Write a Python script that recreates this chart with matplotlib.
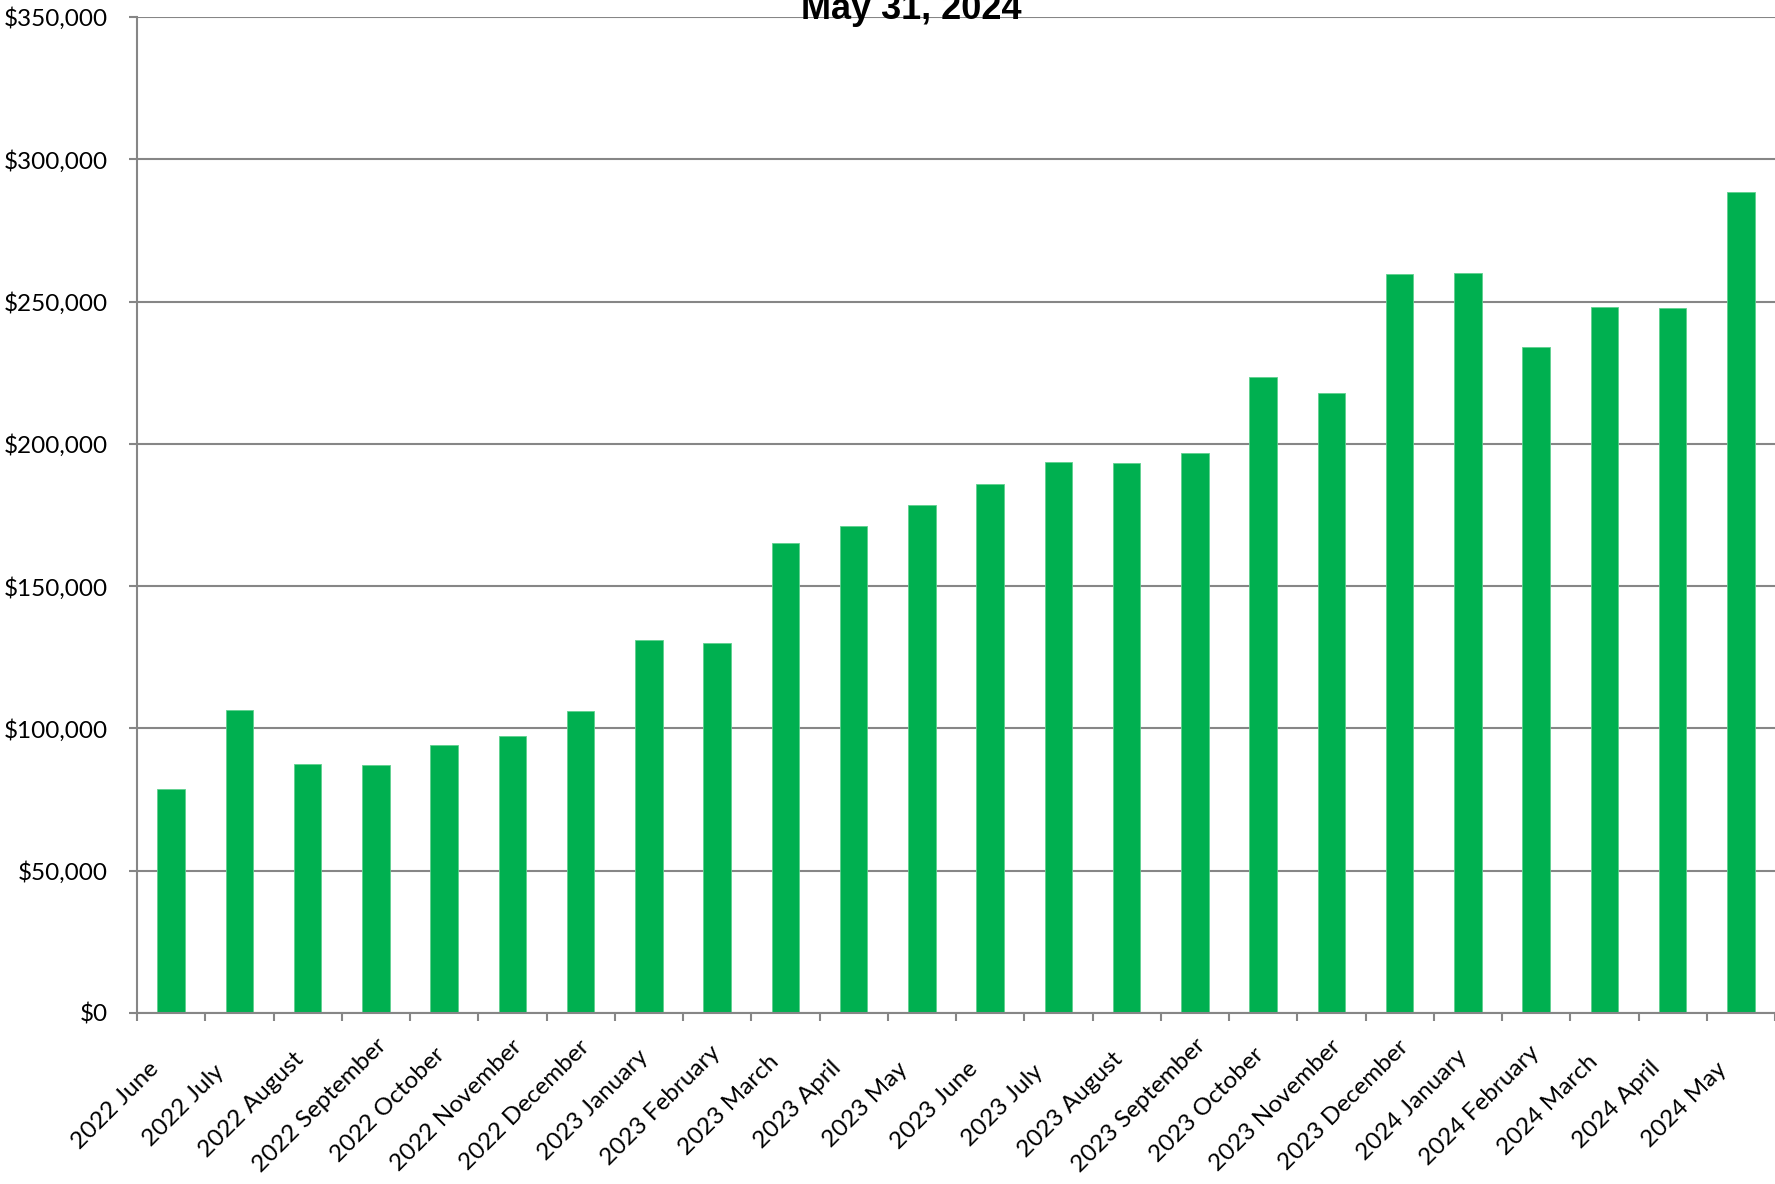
import matplotlib
matplotlib.use("Agg")
import matplotlib.pyplot as plt
from matplotlib.ticker import FuncFormatter, FixedLocator
import matplotlib.transforms as mtransforms
import numpy as np

months = ["2022 June", "2022 July", "2022 August", "2022 September", "2022 October",
          "2022 November", "2022 December", "2023 January", "2023 February", "2023 March",
          "2023 April", "2023 May", "2023 June", "2023 July", "2023 August",
          "2023 September", "2023 October", "2023 November", "2023 December",
          "2024 January", "2024 February", "2024 March", "2024 April", "2024 May"]
values = [78800, 106600, 87500, 87200, 94300, 97500, 106200, 130900, 130100, 165100,
          171000, 178600, 185800, 193700, 193300, 196900, 223500, 218000, 259700,
          260100, 233900, 248200, 247800, 288400]
title_text = "May 31, 2024"

plt.rcParams['font.family'] = ['Lato', 'DejaVu Sans']

fig = plt.figure(figsize=(17.75, 11.84), dpi=100)
ax = fig.add_axes([137/1775, 1 - 1013/1184, 1 - 137/1775, (1013 - 17)/1184])

x = np.arange(len(months))
ax.bar(x, values, width=0.40, color="#00B050", edgecolor="#5FD08F", linewidth=0.6, zorder=3)

ax.set_xlim(-0.5, len(months) - 0.5)
ax.set_ylim(0, 350000)
ax.set_yticks(np.arange(0, 350001, 50000))
ax.yaxis.set_major_formatter(FuncFormatter(lambda v, p: f"${v:,.0f}"))

grid_c = "#868686"
ax.yaxis.grid(True, color=grid_c, linewidth=1.5, zorder=0)
ax.set_axisbelow(True)
for s in ["top", "right"]:
    ax.spines[s].set_visible(False)
for s in ["left", "bottom"]:
    ax.spines[s].set_color(grid_c)
    ax.spines[s].set_linewidth(1.5)
ax.spines["bottom"].set_zorder(4)

ax.tick_params(axis="y", length=6, width=1.5, color=grid_c, labelsize=17.5, pad=15)
ax.set_xticks(x)
ax.set_xticklabels(months, rotation=45, ha="center", va="center", rotation_mode="anchor", fontsize=17.5)
ax.tick_params(axis="x", which="major", length=0, pad=0)
ax.xaxis.set_minor_locator(FixedLocator(np.arange(-0.5, len(months), 1.0)))
ax.tick_params(axis="x", which="minor", length=6, width=1.5, color=grid_c)

offset = mtransforms.ScaledTranslation(-56/100, -92/100, fig.dpi_scale_trans)
for lbl in ax.get_xticklabels():
    lbl.set_transform(lbl.get_transform() + offset)

fig.text(805/1568, 1 - 19/1184, title_text, ha="center", va="baseline",
         fontsize=26, fontweight="bold", family=["Liberation Sans", "DejaVu Sans"])

fig.savefig("out.png", dpi=100)
